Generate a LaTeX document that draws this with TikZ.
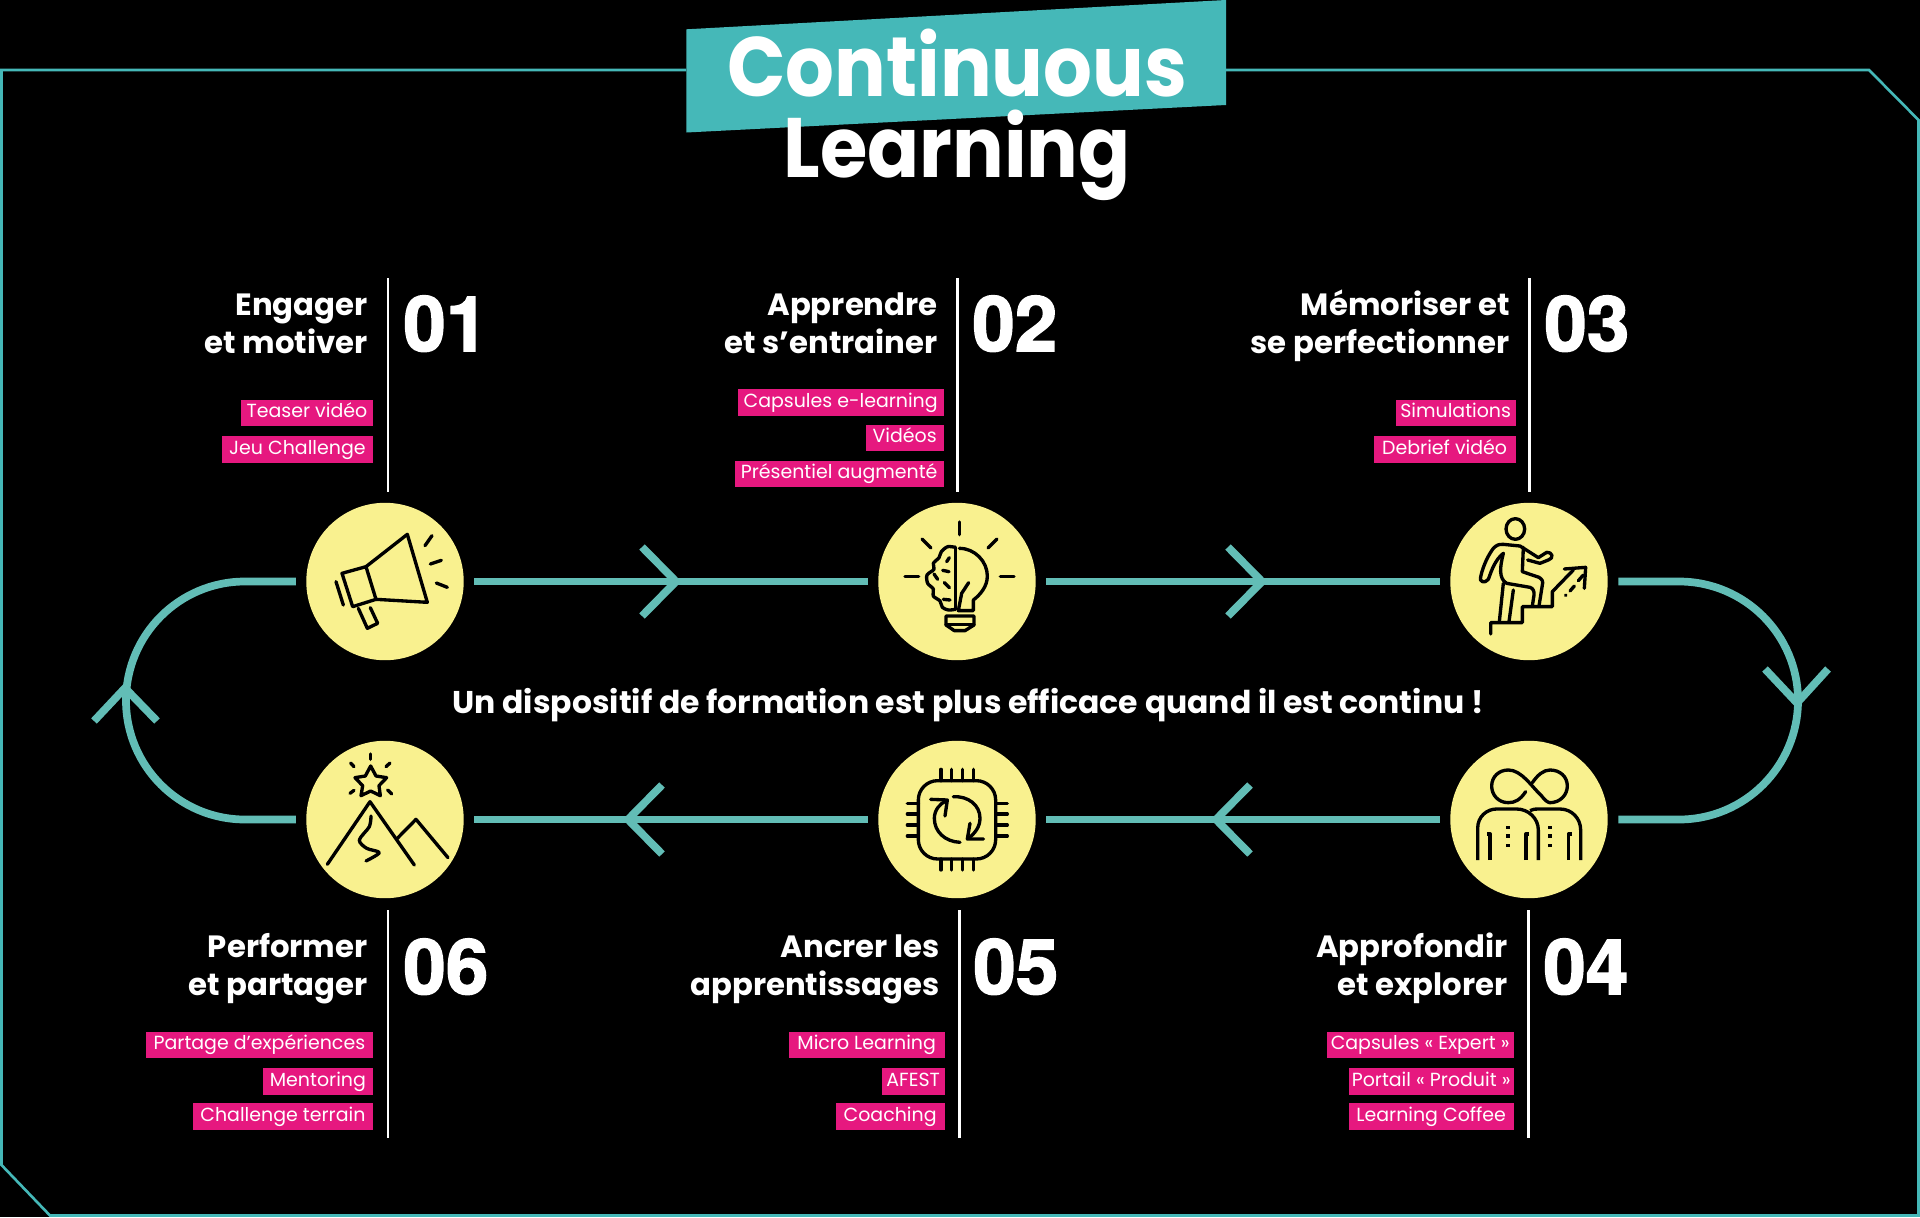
\documentclass[tikz,border=0pt]{standalone}
\usepackage{fontspec}
\setmainfont{Poppins}
\newfontfamily\titlefont[FakeStretch=0.91]{Poppins}
\newfontfamily\numfont[FakeBold=2]{TeX Gyre Heros Bold}
\definecolor{tealbanner}{HTML}{45B8B8}
\definecolor{tealline}{HTML}{62BDB6}
\definecolor{sun}{HTML}{F9F18F}
\definecolor{rose}{HTML}{E6187F}
\tikzset{
  frameline/.style={draw=tealbanner,line width=1.5pt},
  conn/.style={draw=tealline,line width=4.4pt},
  rule/.style={draw=white,line width=1.7pt},
  disc/.style={circle,fill=sun,minimum size=89.6pt,inner sep=0pt,outer sep=6pt},
  head/.style={text=white,font=\fontsize{17.5}{21.5}\selectfont\bfseries,align=right,anchor=base east,inner sep=0pt},
  num/.style={text=white,font=\fontsize{43.5}{43.5}\numfont,anchor=base west,inner sep=0pt},
  tagbox/.style={fill=rose,text=white,font=\fontsize{10.8}{12}\selectfont,minimum height=15.3pt,text height=8pt,text depth=2.5pt,inner sep=0pt,anchor=east},
  ttl/.style={text=white,font=\fontsize{48}{48}\titlefont\bfseries,anchor=base,inner sep=0pt},
  icon/.style={x=0.006667cm,y=-0.006667cm,draw=black,line width=1.9pt,line cap=round,line join=round}
}
\newcommand{\tagat}[4]{\node[tagbox,minimum width=#3*0.02cm] at (#1,#2+1.5) {#4};}
\begin{document}
\begin{tikzpicture}[x=0.02cm,y=-0.02cm]
\useasboundingbox (0,0) rectangle (1920,1217);
\fill[black] (0,0) rectangle (1920,1217);
% frame
\draw[frameline] (686,70) -- (1.5,70) -- (1.5,1165) -- (50,1215.5) -- (1918.5,1215.5) -- (1918.5,120) -- (1869,70) -- (1226,70);
% banner + title
\fill[tealbanner] (686.4,29.3) -- (1226,0) -- (1226,105) -- (686.4,132.5) -- cycle;
\node[ttl] (t1) at (957,96) {Continuous};
\node[ttl] (t2) at (957,177) {Learning};
% discs
\node[disc] (n1) at (385,581.5) {};
\node[disc] (n2) at (957,581.5) {};
\node[disc] (n3) at (1529,581.5) {};
\node[disc] (n4) at (1529,819.5) {};
\node[disc] (n5) at (957,819.5) {};
\node[disc] (n6) at (385,819.5) {};
% connectors
\draw[conn] (n1.east) -- (n2.west);
\draw[conn] (n2.east) -- (n3.west);
\draw[conn] (n3.east) -- (1679,581.5) arc[start angle=-90,end angle=90,radius=119] -- (n4.east);
\draw[conn] (n4.west) -- (n5.east);
\draw[conn] (n5.west) -- (n6.east);
\draw[conn] (n6.west) -- (245,819.5) arc[start angle=90,end angle=270,radius=119] -- (n1.west);
% chevrons
\draw[conn] (642,547) -- (676,581.5) -- (642,616);
\draw[conn] (1228,547) -- (1262,581.5) -- (1228,616);
\draw[conn] (1765,669) -- (1797,703) -- (1828,669);
\draw[conn] (1250,785) -- (1216,819.5) -- (1250,854);
\draw[conn] (662,785) -- (628,819.5) -- (662,854);
\draw[conn] (94,721) -- (125,688) -- (157,721);
% rules
\draw[rule] (388,278) -- (388,492);
\draw[rule] (957.5,278) -- (957.5,492);
\draw[rule] (1529,278) -- (1529,492);
\draw[rule] (388,910) -- (388,1138);
\draw[rule] (959,910) -- (959,1138);
\draw[rule] (1528,910) -- (1528,1138);
% headings
\node[head] (h1) at (368,353) {Engager\\et motiver};
\node[head] (h2) at (938,353) {Apprendre\\et s’entrainer};
\node[head] (h3) at (1510,353) {Mémoriser et\\se perfectionner};
\node[head] (h4) at (1508,995) {Approfondir\\et explorer};
\node[head] (h5) at (940,995) {Ancrer les\\apprentissages};
\node[head] (h6) at (368,995) {Performer\\et partager};
% numbers
\node[num] (a1) at (403,351) {01};
\node[num] (a2) at (972,351) {02};
\node[num] (a3) at (1544,351) {03};
\node[num] (a4) at (1543,994) {04};
\node[num] (a5) at (973,994) {05};
\node[num] (a6) at (403,994) {06};
% tags
\tagat{373.5}{411.5}{132.5}{Teaser vidéo}
\tagat{373.5}{448}{151.5}{Jeu Challenge}
\tagat{944}{401}{206}{Capsules e-learning}
\tagat{944}{436.5}{78}{Vidéos}
\tagat{944}{472.5}{209}{Présentiel augmenté}
\tagat{1516}{411.5}{120}{Simulations}
\tagat{1516}{448}{142}{Debrief vidéo}
\tagat{1514}{1043.5}{187}{Capsules « Expert »}
\tagat{1514}{1080}{165}{Portail « Produit »}
\tagat{1514}{1115}{165}{Learning Coffee}
\tagat{945}{1043.5}{156}{Micro Learning}
\tagat{945}{1080}{63}{AFEST}
\tagat{945}{1115}{109}{Coaching}
\tagat{373.5}{1043.5}{227.5}{Partage d'expériences}
\tagat{373.5}{1080}{110.5}{Mentoring}
\tagat{373.5}{1115}{180.5}{Challenge terrain}
% centre
\node[text=white,font=\fontsize{17.9}{20}\selectfont\bfseries,anchor=base,inner sep=0pt] (c) at (968,713) {Un dispositif de formation est plus efficace quand il est continu !};
% megaphone
\begin{scope}[shift={(290,490)},icon]
\draw (228,230) -- (352,133) -- (412,337) -- (258,328);
\draw (156,250) -- (228,230) -- (258,328) -- (188,350) -- cycle;
\draw (205,355) -- (232,415) -- (263,400) -- (241,353);
\draw (138,275) -- (160,345);
\draw (405,167) -- (426,137);
\draw (421,222) -- (454,211);
\draw (439,279) -- (472,292);
\end{scope}
% bulb
\begin{scope}[shift={(865,490)},icon]
\draw (284,96) -- (284,134);
\draw (171,147) -- (198,174);
\draw (396,147) -- (369,174);
\draw (120,259) -- (161,259);
\draw (406,259) -- (447,259);
\draw (283,175) .. controls (330,175) and (367,215) .. (367,258) .. controls (367,290) and (345,315) .. (325,330) -- (325,362) -- (280,362) -- (290,310) -- (311,278);
\draw (271,172) -- (271,358);
\draw plot[smooth] coordinates {(271,172) (248,170) (229,185) (222,203) (205,220) (207,238) (186,255) (188,280) (205,297) (205,318) (225,333) (232,352) (250,360) (271,358)};
\draw (253,203) -- (245,215);
\draw (233,241) -- (252,245);
\draw (207,252) -- (218,268);
\draw (238,278) -- (253,293);
\draw (235,328) -- (255,330);
\draw (243,378) -- (327,378) -- (327,405) -- (300,422) -- (268,422) -- (243,405) -- cycle;
\draw (243,403) -- (327,403);
\end{scope}
% climber
\begin{scope}[shift={(1435,490)},icon]
\draw (241,117) ellipse[x radius=28,y radius=31];
\draw (205,190) .. controls (180,210) and (170,240) .. (160,268) .. controls (150,282) and (130,275) .. (137,260) .. controls (145,225) and (160,195) .. (175,175) .. controls (185,165) and (190,163) .. (205,163) -- (255,168) -- (310,203) -- (335,187) .. controls (352,185) and (358,205) .. (340,210) -- (315,220) -- (278,210);
\draw (265,172) -- (262,245) -- (312,262) .. controls (322,268) and (325,275) .. (322,285) -- (312,348);
\draw (205,190) .. controls (195,230) and (190,265) .. (215,280) -- (285,292) .. controls (295,295) and (298,305) .. (297,315) -- (292,348);
\draw (205,280) -- (193,395);
\draw (235,300) -- (222,395);
\draw (167,432) -- (167,398) -- (262,398) -- (262,350) -- (352,350) -- (352,305) -- (415,240);
\draw (388,237) -- (452,232) -- (448,295);
\draw (392,316) -- (393,315);
\draw (405,303) -- (418,288);
\draw (430,272) -- (445,255);
\end{scope}
% people
\begin{scope}[shift={(1435,730)},icon,line cap=butt]
\draw[line cap=round] (272,185) .. controls (255,210) and (240,218) .. (220,218) .. controls (190,218) and (170,195) .. (170,168) .. controls (170,140) and (192,120) .. (220,120) .. controls (260,120) and (290,170) .. (320,198) .. controls (330,212) and (340,218) .. (345,218) .. controls (375,218) and (397,195) .. (397,168) .. controls (397,140) and (375,120) .. (345,120) .. controls (325,120) and (308,135) .. (292,158);
\draw (128,390) -- (128,295) .. controls (128,260) and (155,237) .. (185,237) -- (245,237) .. controls (280,237) and (310,265) .. (310,300) -- (310,390);
\draw (285,242) .. controls (295,237) and (300,237) .. (310,237) -- (375,237) .. controls (410,237) and (437,265) .. (437,300) -- (437,390);
\draw (165,390) -- (165,312) -- (155,312);
\draw (273,390) -- (273,312) -- (283,312);
\draw (400,390) -- (400,312) -- (410,312);
\foreach \xx in {219,345} \foreach \yy in {292,318,346} {\fill[black] (\xx-5,\yy-5) rectangle (\xx+5,\yy+5);}
\end{scope}
% chip
\begin{scope}[shift={(865,730)},icon]
\draw[rounded corners=11pt] (160,152) rectangle (392,387);
\foreach \xx in {228,260,292,325} {\draw (\xx,118) -- (\xx,152); \draw (\xx,387) -- (\xx,420);}
\foreach \yy in {220,252,285,318} {\draw (127,\yy) -- (160,\yy); \draw (392,\yy) -- (427,\yy);}
\draw (285,337) .. controls (240,335) and (208,305) .. (208,265) .. controls (208,240) and (225,220) .. (245,212);
\draw (197,208) -- (247,210) -- (240,258);
\draw (265,200) .. controls (310,198) and (345,225) .. (345,265) .. controls (345,290) and (330,310) .. (310,325);
\draw (355,327) -- (307,327) -- (315,280);
\end{scope}
% mountain
\begin{scope}[shift={(290,730)},icon]
\draw (242,108) -- (258,138) -- (290,143) -- (267,167) -- (271,197) -- (242,183) -- (213,197) -- (218,167) -- (195,143) -- (226,138) -- cycle;
\draw (242,72) -- (242,88);
\draw (182,99) -- (192,110);
\draw (300,99) -- (288,110);
\draw (180,190) -- (192,181);
\draw (305,192) -- (293,180);
\draw (112,403) -- (240,215) -- (373,405);
\draw (322,325) -- (378,268) -- (474,383);
\draw plot[smooth] coordinates {(243,258) (238,290) (208,330) (230,355) (268,368) (228,393)};
\end{scope}
\end{tikzpicture}
\end{document}
